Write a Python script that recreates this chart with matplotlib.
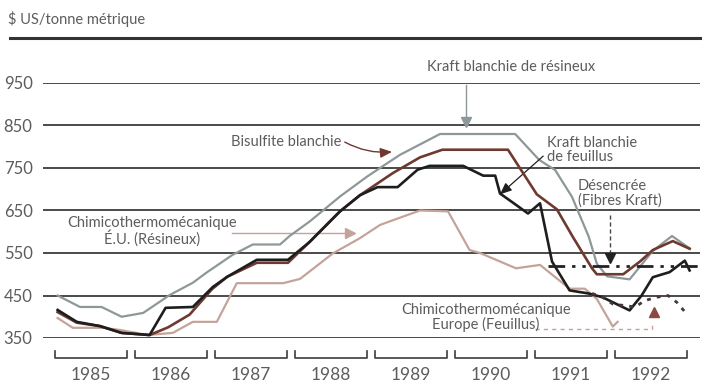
import matplotlib
matplotlib.use("Agg")
import matplotlib.pyplot as plt
from matplotlib.lines import Line2D

plt.rcParams['font.family'] = ['Lato', 'DejaVu Sans']

# Prix de la pâte, $ US/tonne métrique (années décimales)
res_t = [1985.07, 1985.35, 1985.62, 1985.87, 1986.14, 1986.47, 1986.76, 1986.94,
         1987.26, 1987.51, 1987.85, 1987.97, 1988.22, 1988.6, 1988.94, 1989.1,
         1989.35, 1989.85, 1990.79, 1991.09, 1991.29, 1991.5, 1991.71, 1991.81,
         1991.94, 1992.22, 1992.51, 1992.75, 1992.97]
res_v = [450, 423, 423, 400, 409, 451, 480, 505, 546, 570, 570, 590, 624, 683,
         730, 750, 781, 830, 830, 769, 745, 682, 588, 525, 495, 488, 555, 590, 561]

bis_t = [1985.07, 1985.31, 1985.6, 1985.87, 1986.22, 1986.45, 1986.72, 1987.0,
         1987.19, 1987.56, 1987.95, 1988.22, 1988.6, 1988.85, 1989.26, 1989.6,
         1989.88, 1990.7, 1991.06, 1991.31, 1991.51, 1991.75, 1991.81, 1992.14,
         1992.35, 1992.51, 1992.76, 1992.97]
bis_v = [411, 386, 378, 362, 357, 375, 405, 465, 494, 527, 527, 576, 648, 686,
         738, 775, 793, 793, 688, 653, 588, 514, 500, 500, 530, 557, 578, 560]

feu_t = [1985.07, 1985.31, 1985.6, 1985.87, 1986.22, 1986.42, 1986.76, 1987.01,
         1987.19, 1987.56, 1987.95, 1988.22, 1988.6, 1988.85, 1989.07, 1989.32,
         1989.57, 1989.72, 1990.14, 1990.39, 1990.54, 1990.6, 1990.75, 1990.95,
         1991.1, 1991.25, 1991.47, 1991.7, 1991.88, 1992.22, 1992.37, 1992.51,
         1992.72, 1992.91, 1992.97]
feu_v = [416, 388, 378, 362, 357, 421, 423, 470, 494, 534, 534, 576, 648, 686,
         705, 705, 746, 755, 755, 732, 732, 690, 670, 643, 667, 530, 462, 455,
         446, 415, 450, 493, 505, 532, 509]

eu_t = [1985.07, 1985.26, 1985.64, 1985.85, 1986.19, 1986.51, 1986.76, 1987.06,
        1987.31, 1987.89, 1988.1, 1988.51, 1988.85, 1989.1, 1989.26, 1989.6,
        1989.95, 1990.22, 1990.35, 1990.8, 1991.1, 1991.47, 1991.66, 1991.81,
        1992.01, 1992.07]
eu_v = [397, 374, 374, 369, 357, 362, 388, 388, 479, 479, 489, 549, 585, 616,
        627, 650, 648, 557, 550, 514, 522, 466, 466, 442, 377, 388]

eur_t = [1991.75, 1991.88, 1992.01, 1992.29, 1992.41, 1992.56, 1992.7, 1992.81, 1992.95]
eur_v = [455, 446, 430, 423, 438, 446, 450, 434, 403]

des_t = [1991.2, 1993.08]
des_v = [520, 520]

years = [1985, 1986, 1987, 1988, 1989, 1990, 1991, 1992]
yticks = [350, 450, 550, 650, 750, 850, 950]

TXT = '#5c5c5c'
GRID = '#3c3c3c'
C_RES = '#8e9898'
C_BIS = '#6e3a30'
C_FEU = '#1e1e1e'
C_EU = '#c4a39b'
C_EUR = '#4a3838'

fig = plt.figure(figsize=(7.11, 3.85), dpi=100)
ax = fig.add_axes([43 / 711, 1 - 338 / 385, 657 / 711, 255 / 385])
ax.set_xlim(1984.8875, 1993.1)
ax.set_ylim(350, 950)
for s in ax.spines.values():
    s.set_visible(False)

for v in yticks:
    ax.axhline(v, color=GRID, lw=1.3, zorder=1)
ax.set_yticks(yticks)
ax.set_yticklabels([str(v) for v in yticks], fontsize=12, color=TXT)
ax.tick_params(axis='y', length=0, pad=7.5)
ax.set_xticks([])

# séries
ax.plot(res_t, res_v, color=C_RES, lw=1.6, zorder=3)
ax.plot(eu_t, eu_v, color=C_EU, lw=1.6, zorder=3)
ax.plot(bis_t, bis_v, color=C_BIS, lw=1.9, zorder=4)
ax.plot(feu_t, feu_v, color=C_FEU, lw=1.9, zorder=5)
ax.plot(eur_t, eur_v, color=C_EUR, lw=2.0, ls=(0, (1.4, 2.2)), zorder=5)
ax.plot(des_t, des_v, color='#222222', lw=2.0, ls=(0, (6, 2.5, 1.2, 2.5, 1.2, 2.5)), zorder=5)

# accolades des années
for y in years:
    x0, x1 = y + 0.04, y + 0.94
    ax.plot([x0, x0, x1, x1], [320, 302, 302, 320], color=GRID, lw=1.2,
            clip_on=False)
    ax.text(y + 0.49, 262, str(y), ha='center', va='center', fontsize=12.5,
            color=TXT, clip_on=False)

# étiquettes des séries
lab = dict(fontsize=10.5, color=TXT)
ax.text(1990.74, 987, 'Kraft blanchie de résineux', ha='center', va='center', **lab)
ax.plot([1990.18, 1990.18], [945, 858], color=C_RES, lw=1.0, zorder=2)
ax.plot([1990.18], [858], marker='v', ms=7, color=C_RES, zorder=6)

ax.text(1988.62, 811, 'Bisulfite blanchie', ha='right', va='center', **lab)
ax.annotate('', xy=(1989.25, 788), xytext=(1988.66, 811),
            arrowprops=dict(arrowstyle='-|>,head_length=0.7,head_width=0.3',
                            color=C_BIS, lw=1.0, shrinkA=0, shrinkB=0,
                            connectionstyle='arc3,rad=0.15'))

ax.text(1991.19, 793, 'Kraft blanchie\nde feuillus', ha='left', va='center',
        linespacing=1.0, **lab)
ax.annotate('', xy=(1990.6, 688), xytext=(1991.14, 778),
            arrowprops=dict(arrowstyle='-|>,head_length=0.7,head_width=0.3',
                            color=C_FEU, lw=0.9, shrinkA=0, shrinkB=0))

ax.text(1991.575, 690, 'Désencrée\n(Fibres Kraft)', ha='left', va='center',
        linespacing=1.0, **lab)
ax.plot([1991.98, 1991.98], [640, 540], color='#444444', lw=1.0, ls=(0, (3, 2)), zorder=2)
ax.plot([1991.98], [538], marker='v', ms=7, color='#222222', zorder=6)

ax.text(1986.25, 602, 'Chimicothermomécanique\nÉ.U. (Résineux)', ha='center',
        va='center', linespacing=1.0, **lab)
ax.plot([1987.25, 1988.7], [597, 597], color=C_EU, lw=1.0, zorder=2)
ax.plot([1988.72], [597], marker='>', ms=7, color=C_EU, zorder=6)

ax.text(1990.42, 399, 'Chimicothermomécanique\nEurope (Feuillus)', ha='center',
        va='center', linespacing=1.0, **lab)
ax.plot([1991.04, 1992.5, 1992.5], [372, 372, 385], color=C_EU, lw=1.0,
        ls=(0, (3, 3)), zorder=2)
ax.plot([1992.53], [412], marker='^', ms=7, color='#8a4a40', zorder=6)

# en-tête
fig.add_artist(Line2D([10 / 711, 700 / 711], [1 - 38 / 385] * 2,
                      transform=fig.transFigure, color='#333333', lw=2.2))
fig.text(8 / 711, 1 - 19 / 385, '$ US/tonne métrique', fontsize=10.5,
         color=TXT, va='center', ha='left')

fig.savefig('out.png', dpi=100)
